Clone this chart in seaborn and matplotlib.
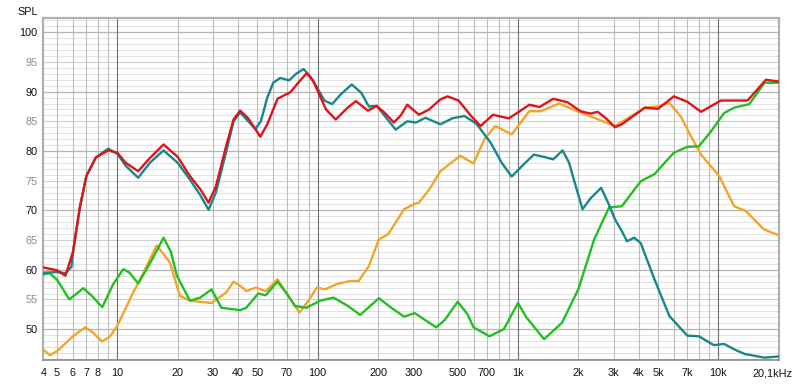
import numpy as np
import pandas as pd
import matplotlib
matplotlib.use("Agg")
import matplotlib.pyplot as plt
import seaborn as sns

# ---- data ----
teal_f = [4.25, 5, 5.5, 5.9, 6, 6.5, 7, 7.8, 9, 10, 11, 12.7, 14.5, 17, 20, 23, 26, 28.5, 31, 35, 38, 41, 45, 48.8,
          52, 56, 60, 65, 72, 78, 85, 92, 100, 108, 118, 130, 148, 165, 180, 197, 215, 245, 280, 310, 345, 410,
          470, 540, 620, 730, 830, 930, 1050, 1200, 1350, 1500, 1670, 1800, 1900, 2100, 2300, 2600, 2800, 3050,
          3300, 3500, 3800, 4100, 4800, 5700, 7000, 8000, 9500, 10700, 12000, 13600, 17000, 20100]
teal_v = [59.5, 59.6, 59.4, 60.5, 63, 70.5, 75.8, 78.9, 80.4, 79.5, 77.5, 75.5, 78, 80.1, 78, 75.2, 72.5, 70.1, 73,
          80, 85, 86.5, 85, 83.7, 85, 89, 91.5, 92.3, 91.9, 93, 93.8, 92.5, 90.5, 88.5, 87.9, 89.5, 91.2, 89.8,
          87.5, 87.6, 86, 83.6, 85.0, 84.8, 85.6, 84.5, 85.5, 85.9, 84.6, 81.4, 78, 75.7, 77.5, 79.4, 79, 78.6,
          80.1, 78, 75.2, 70.2, 72, 73.8, 71.5, 68.5, 66.5, 64.8, 65.4, 64.5, 58.4, 52.2, 48.9, 48.8, 47.3, 47.5,
          46.6, 45.8, 45.2, 45.4]

red_f = [4.25, 5, 5.5, 6, 6.5, 7, 7.8, 9, 10, 11, 12.7, 14.5, 17, 20, 23, 26, 28.5, 31, 35, 38, 41, 45, 51.7, 56,
         63, 73, 80, 88, 95, 100, 110, 123, 140, 155, 178, 197, 215, 240, 260, 280, 320, 360, 410, 445, 505, 580,
         650, 750, 900, 1000, 1140, 1280, 1500, 1770, 2050, 2300, 2500, 2750, 3050, 3300, 4300, 5000, 6000, 7000,
         8200, 10300, 14000, 17300, 20100]
red_v = [60.4, 59.9, 59.0, 63, 70.7, 75.8, 78.9, 80.1, 79.7, 78, 76.6, 78.8, 81.1, 79, 75.8, 73.5, 71.3, 74, 81,
         85.3, 86.8, 85.5, 82.4, 84.5, 88.8, 89.9, 91.5, 93.1, 91.8, 90.1, 87, 85.3, 87.2, 88.4, 86.8, 87.6, 86.5,
         84.8, 86, 87.8, 86.1, 87, 88.7, 89.2, 88.5, 86, 84.2, 86.1, 85.5, 86.5, 87.8, 87.4, 88.8, 88.2, 86.7,
         86.3, 86.6, 85.5, 84.0, 84.5, 87.3, 87.1, 89.2, 88.3, 86.6, 88.5, 88.5, 92.0, 91.7]

orange_f = [4.25, 4.6, 5, 6, 6.9, 7.5, 8.4, 9.2, 10, 12, 13, 15.7, 18.3, 20.5, 23, 29.5, 35, 38, 41, 44, 49, 55, 63,
            70, 81, 90, 99, 109, 125, 145, 160, 180, 202, 225, 270, 305, 320, 360, 410, 515, 600, 680, 770, 930,
            1140, 1300, 1600, 2050, 3050, 4300, 5000, 5700, 6500, 7300, 8200, 9200, 10100, 12000, 13700, 16900,
            20100]
orange_v = [46.6, 45.6, 46.3, 48.8, 50.3, 49.5, 47.9, 48.8, 50.6, 56.2, 58.4, 64.1, 61.2, 55.6, 54.8, 54.4, 56.2,
            58.0, 57.3, 56.4, 57.0, 56.4, 58.4, 56, 52.8, 54.8, 57.0, 56.7, 57.6, 58.1, 58.1, 60.6, 65.1, 66.0,
            70.2, 71.1, 71.3, 73.5, 76.6, 79.2, 77.9, 82, 84.2, 82.8, 86.7, 86.7, 88.0, 86.5, 84.2, 87.3, 87.5,
            88.1, 85.8, 82.5, 79.4, 77.4, 75.8, 70.7, 69.9, 66.8, 65.8]

green_f = [4.25, 4.6, 5, 5.75, 6.76, 7.5, 8.4, 9.5, 10.7, 11.5, 12.7, 14.5, 17, 18.5, 19.8, 23, 25.9, 29.5, 33, 41,
           44, 50.5, 55, 63, 70, 77, 88, 103, 120, 140, 163, 202, 235, 270, 305, 390, 430, 500, 560, 600, 720, 850,
           1000, 1100, 1350, 1660, 2000, 2400, 2850, 3300, 4100, 4800, 6000, 7000, 8000, 9200, 10700, 12000,
           14300, 17000, 20100]
green_v = [59.2, 59.4, 58.3, 55.0, 56.9, 55.5, 53.7, 57.5, 60.1, 59.5, 57.7, 61, 65.4, 63, 59, 54.8, 55.3, 56.7,
           53.6, 53.2, 53.6, 56.0, 55.7, 58.0, 56, 53.9, 53.6, 54.8, 55.3, 54, 52.4, 55.2, 53.5, 52.1, 52.7, 50.3,
           51.5, 54.6, 52.5, 50.3, 48.8, 50, 54.4, 52, 48.3, 51.1, 56.7, 65.1, 70.5, 70.7, 74.9, 76.1, 79.7, 80.7,
           80.8, 83.3, 86.4, 87.3, 87.9, 91.5, 91.5]

x_tick_vals = [4.3, 5, 6, 7, 8, 10, 20, 30, 40, 50, 70, 100, 200, 300, 500, 700, 1000, 2000, 3000, 4000, 5000,
               7000, 10000, 18700]
x_tick_labels = ["4", "5", "6", "7", "8", "10", "20", "30", "40", "50", "70", "100", "200", "300", "500", "700",
                 "1k", "2k", "3k", "4k", "5k", "7k", "10k", "20,1kHz"]
y_tick_vals = [50, 55, 60, 65, 70, 75, 80, 85, 90, 95, 100]

series = [("orange", orange_f, orange_v), ("green", green_f, green_v),
          ("teal", teal_f, teal_v), ("red", red_f, red_v)]
palette = {"orange": "#f4a428", "green": "#22bf22", "teal": "#16888a", "red": "#e01418"}

frames = [pd.DataFrame({"freq": f, "spl": v, "series": n}) for n, f, v in series]
df = pd.concat(frames, ignore_index=True)

# ---- figure ----
sns.set_style("white")
plt.rcParams['font.family'] = ['Liberation Sans', 'DejaVu Sans']

fig = plt.figure(figsize=(8, 3.84), dpi=100)
ax = fig.add_axes([43 / 800, 24 / 384, 736 / 800, 342 / 384])
ax.set_xscale("log")
ax.set_xlim(4.25, 20100)
ax.set_ylim(44.8, 102.4)

# grid
for db in range(45, 103):
    if db % 10 == 0:
        ax.axhline(db, color="#b4b4b4", lw=0.9, zorder=0)
    elif db % 5 == 0:
        ax.axhline(db, color="#cfcfcf", lw=0.8, zorder=0)
    else:
        ax.axhline(db, color="#e2e2e2", lw=0.7, zorder=0)
for dec in [1, 10, 100, 1000, 10000]:
    for m in range(1, 10):
        f = dec * m
        if f < 4.25 or f > 20100:
            continue
        if m == 1:
            ax.axvline(f, color="#6e6e6e", lw=0.8, zorder=0)
        else:
            ax.axvline(f, color="#bdbdbd", lw=0.8, zorder=0)

for name, _, _ in series:
    sns.lineplot(data=df[df["series"] == name], x="freq", y="spl", color=palette[name],
                 lw=1.7, ax=ax, sort=False, legend=False, zorder=3)

ax.set_xlabel("")
ax.set_ylabel("")
ax.set_xticks(x_tick_vals)
ax.set_xticklabels(x_tick_labels)
ax.xaxis.set_minor_locator(matplotlib.ticker.NullLocator())
ax.set_yticks(y_tick_vals)
ax.set_yticklabels([str(v) for v in y_tick_vals])
for lab, v in zip(ax.get_yticklabels(), y_tick_vals):
    lab.set_color("#111111" if v % 10 == 0 else "#8a8a8a")
ax.tick_params(axis="both", length=0, labelsize=7.8, colors="#111111")
ax.tick_params(axis="x", pad=6)
ax.tick_params(axis="y", pad=4)
for lab, v in zip(ax.get_yticklabels(), y_tick_vals):
    lab.set_color("#111111" if v % 10 == 0 else "#8a8a8a")

for s in ["left", "top", "right"]:
    ax.spines[s].set_color("#b0b0b0")
    ax.spines[s].set_linewidth(1.6)
ax.spines["bottom"].set_color("#8a8a8a")
ax.spines["bottom"].set_linewidth(1.2)

fig.text(17 / 800, 1 - 12 / 384, "SPL", fontsize=7.8, va="center", ha="left", color="#111111")

fig.savefig("out.png", dpi=100)
